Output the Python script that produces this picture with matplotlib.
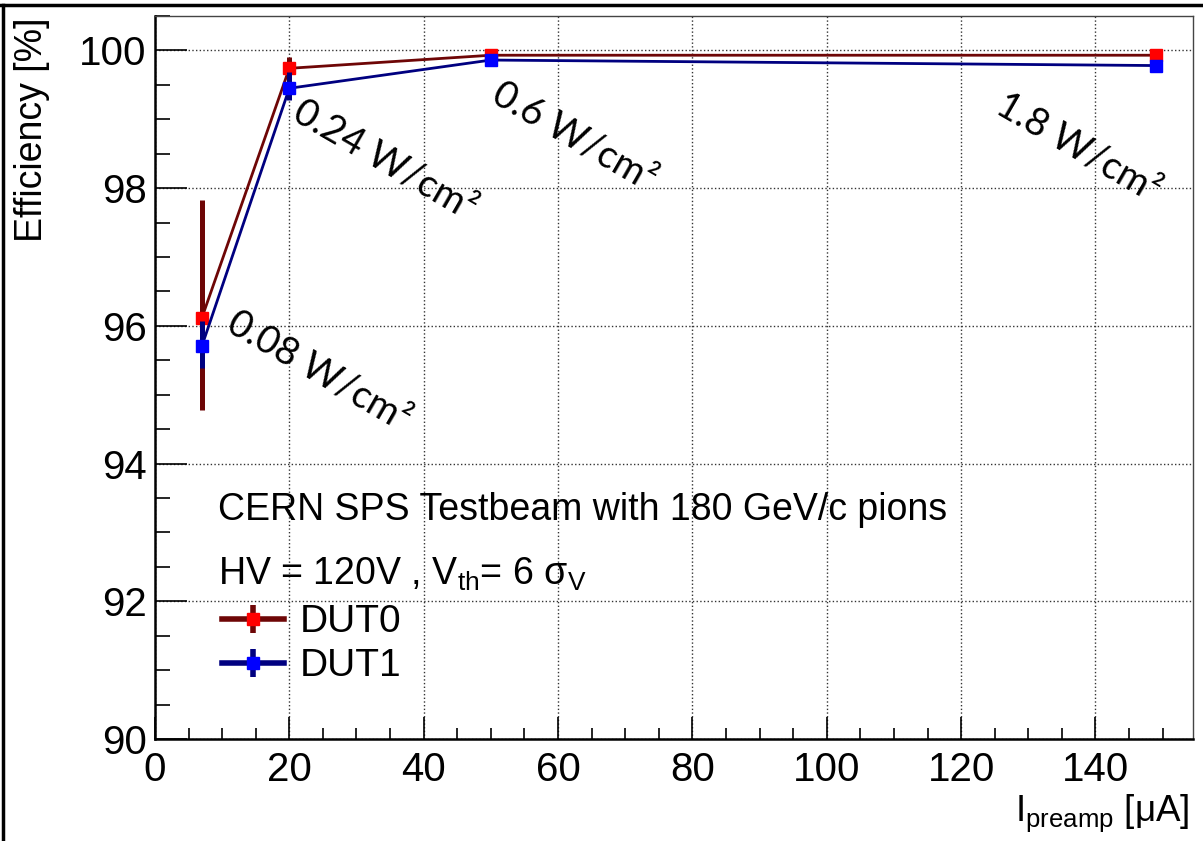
import matplotlib
matplotlib.use("Agg")
import matplotlib.pyplot as plt
from matplotlib.lines import Line2D
from matplotlib.ticker import MultipleLocator

plt.rcParams['font.family'] = ['Liberation Sans', 'DejaVu Sans']
plt.rcParams['mathtext.fontset'] = 'custom'
plt.rcParams['mathtext.rm'] = 'Liberation Sans'
plt.rcParams['mathtext.it'] = 'Liberation Sans:italic'

# data
current = [7, 20, 50, 149]
dut0_eff = [96.12, 99.74, 99.93, 99.93]
dut0_lo = [1.34, 0.17, 0.03, 0.03]
dut0_hi = [1.71, 0.17, 0.03, 0.03]
dut1_eff = [95.71, 99.45, 99.86, 99.78]
dut1_lo = [0.32, 0.17, 0.04, 0.05]
dut1_hi = [0.36, 0.23, 0.04, 0.05]

power_labels = ['0.08 W/cm²', '0.24 W/cm²', '0.6 W/cm²', '1.8 W/cm²']
label_x = [24.4, 34.3, 62.5, 137.4]
label_y = [95.34, 98.41, 98.75, 98.59]

dark_red = '#6e0606'
navy = '#000080'

fig = plt.figure(figsize=(12.03, 8.41), dpi=100)
ax = fig.add_axes([0.1288, 0.1213, 0.8628, 0.8597])

ax.errorbar(current, dut0_eff, yerr=[dut0_lo, dut0_hi], color=dark_red,
            lw=2, elinewidth=3.6, capsize=0, marker='s', ms=8.5,
            mfc='#ff0000', mec='#ff0000', zorder=3)
ax.errorbar(current, dut1_eff, yerr=[dut1_lo, dut1_hi], color=navy,
            lw=2, elinewidth=3.6, capsize=0, marker='s', ms=8.5,
            mfc='#0000ff', mec='#0000ff', zorder=4)

for txt, lx, ly in zip(power_labels, label_x, label_y):
    ax.text(lx, ly, txt, rotation=-30, rotation_mode='anchor',
            ha='center', va='center', fontsize=27.5, family=['Lato', 'DejaVu Sans'])

ax.set_xlim(0, 154.5)
ax.set_ylim(90, 100.5)
ax.xaxis.set_major_locator(MultipleLocator(20))
ax.xaxis.set_minor_locator(MultipleLocator(5))
ax.yaxis.set_major_locator(MultipleLocator(2))
ax.yaxis.set_minor_locator(MultipleLocator(0.5))
ax.grid(which='major', linestyle=':', color='#333333', lw=1)
ax.set_axisbelow(True)

ax.tick_params(axis='y', which='major', direction='in', length=23, width=1.2,
               labelsize=29, pad=6)
ax.tick_params(axis='y', which='minor', direction='in', length=11, width=1.2)
ax.tick_params(axis='x', which='major', direction='in', length=16, width=1.2,
               labelsize=29, pad=9)
ax.tick_params(axis='x', which='minor', direction='in', length=8, width=1.2)
for s in ['left', 'bottom']:
    ax.spines[s].set_linewidth(1.8)
for s in ['top', 'right']:
    ax.spines[s].set_linewidth(1.0)
    ax.spines[s].set_color('#444444')

ax.text(-0.118, 0.998, 'Efficiency [%]', transform=ax.transAxes, rotation=90,
        ha='center', va='top', fontsize=27)
ax.text(0.997, -0.113, r'I$_{\mathrm{preamp}}$ [μA]', transform=ax.transAxes,
        ha='right', va='baseline', fontsize=26.5)

ax.text(0.0607, 0.303, 'CERN SPS Testbeam with 180 GeV/c pions',
        transform=ax.transAxes, ha='left', va='baseline', fontsize=27)
ax.text(0.0607, 0.213, r'HV = 120V , V$_{\mathrm{th}}$= 6 σ$_{\mathrm{V}}$',
        transform=ax.transAxes, ha='left', va='baseline', fontsize=27)

h0 = (Line2D([], [], color=dark_red, lw=4),
      Line2D([], [], color=dark_red, marker='|', ms=20, mew=4, ls=''),
      Line2D([], [], color='#ff0000', marker='s', ms=9, ls=''))
h1 = (Line2D([], [], color=navy, lw=4),
      Line2D([], [], color=navy, marker='|', ms=20, mew=4, ls=''),
      Line2D([], [], color='#0000ff', marker='s', ms=9, ls=''))
ax.legend([h0, h1], ['DUT0', 'DUT1'], loc='center left',
          bbox_to_anchor=(0.0645, 0.131), frameon=False, fontsize=28,
          handlelength=1.6, handletextpad=0.4, labelspacing=0.2,
          borderpad=0, borderaxespad=0)

# canvas frame (top and left edges)
fig.add_artist(Line2D([0, 1], [0.9935, 0.9935], color='black', lw=2.5,
                      transform=fig.transFigure))
fig.add_artist(Line2D([0.0025, 0.0025], [0, 0.9935], color='black', lw=2.5,
                      transform=fig.transFigure))

fig.savefig('out.png', dpi=100)
